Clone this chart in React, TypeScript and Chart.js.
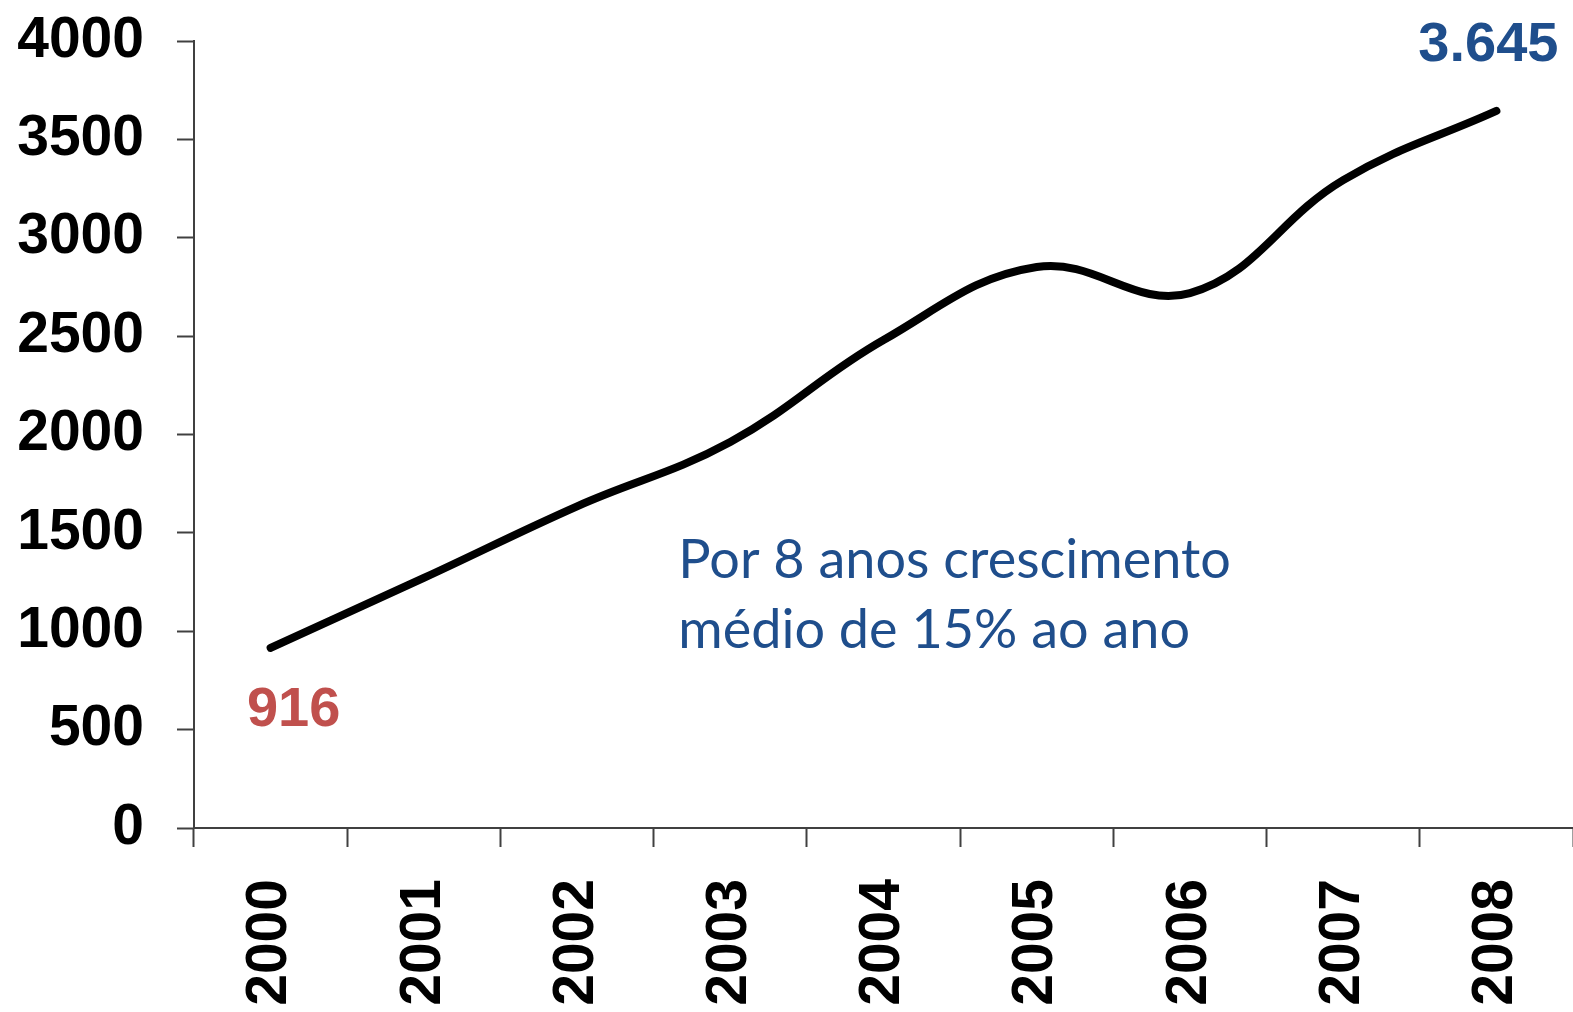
import React, { useEffect, useRef } from "react";
import { Chart, registerables } from "chart.js";

Chart.register(...registerables);

const years = ["2000", "2001", "2002", "2003", "2004", "2005", "2006", "2007", "2008"];
const values = [916, 1271, 1635, 1962, 2480, 2851, 2719, 3293, 3645];
const yTicks = [0, 500, 1000, 1500, 2000, 2500, 3000, 3500, 4000];
const firstLabel = "916";
const lastLabel = "3.645";
const noteLines = ["Por 8 anos crescimento", "médio de 15% ao ano"];

const tickFont = { family: "'Liberation Sans', Arial, sans-serif", size: 57, weight: "bold" as const };

const labelPlugin = {
  id: "labels",
  afterDatasetsDraw(chart: any) {
    const { ctx } = chart;
    const meta = chart.getDatasetMeta(0);
    const p0 = meta.data[0];
    const pN = meta.data[meta.data.length - 1];
    ctx.save();
    ctx.font = "bold 56px 'Liberation Sans', Arial, sans-serif";
    ctx.textAlign = "center";
    ctx.textBaseline = "middle";
    ctx.fillStyle = "#C0504D";
    ctx.fillText(firstLabel, p0.x + 23, p0.y + 63);
    ctx.fillStyle = "#1F4E8C";
    ctx.fillText(lastLabel, pN.x - 8, pN.y - 65);

    ctx.fillStyle = "#1F4E8C";
    ctx.textAlign = "left";
    ctx.textBaseline = "alphabetic";
    ctx.font = "54px Lato, 'Open Sans', sans-serif";
    const x = chart.scales.x.getPixelForValue(3) - 52;
    const y0 = chart.scales.y.getPixelForValue(1270);
    const y1 = chart.scales.y.getPixelForValue(915);
    ctx.fillText(noteLines[0], x, y0);
    ctx.fillText(noteLines[1], x, y1);
    ctx.restore();
  },
};

const zeroPad = (scale: any) => {
  scale.paddingTop = 0;
  scale.paddingBottom = 0;
  scale.paddingLeft = 0;
  scale.paddingRight = 0;
};

export default function App() {
  const ref = useRef<HTMLCanvasElement>(null);
  useEffect(() => {
    const chart = new Chart(ref.current!, {
      type: "line",
      data: {
        labels: years,
        datasets: [
          {
            data: values,
            borderColor: "#000000",
            borderWidth: 8,
            borderCapStyle: "round",
            tension: 0.4,
            pointRadius: 0,
            fill: false,
          },
        ],
      },
      options: {
        animation: false,
        responsive: false,
        devicePixelRatio: 1,
        layout: { padding: { left: 17, top: 41, right: 0, bottom: 0 } },
        plugins: { legend: { display: false }, tooltip: { enabled: false } },
        scales: {
          x: {
            type: "category",
            offset: true,
            afterFit: (scale: any) => {
              zeroPad(scale);
              scale.height = 184;
            },
            grid: {
              offset: true,
              drawOnChartArea: false,
              drawTicks: true,
              tickLength: 19,
              tickWidth: 2,
              tickColor: "#404040",
            },
            border: { display: true, color: "#404040", width: 2 },
            ticks: {
              font: tickFont,
              color: "#000000",
              minRotation: 90,
              maxRotation: 90,
              padding: 32,
              autoSkip: false,
            },
          },
          y: {
            min: 0,
            max: 4000,
            afterBuildTicks: (scale: any) => {
              scale.ticks = yTicks.map((v) => ({ value: v }));
            },
            afterFit: (scale: any) => {
              zeroPad(scale);
              scale.width = 177;
            },
            grid: {
              drawOnChartArea: false,
              drawTicks: true,
              tickLength: 17,
              tickWidth: 2,
              tickColor: "#404040",
            },
            border: { display: true, color: "#404040", width: 2 },
            ticks: {
              font: tickFont,
              color: "#000000",
              padding: 33,
              callback: (v: any) => String(v),
            },
          },
        },
      },
      plugins: [labelPlugin],
    });
    return () => chart.destroy();
  }, []);
  return (
    <div style={{ position: "fixed", left: 0, top: 0, width: 1573, height: 1012, background: "#fff" }}>
      <canvas ref={ref} width={1573} height={1012} style={{ width: 1573, height: 1012 }} />
    </div>
  );
}
